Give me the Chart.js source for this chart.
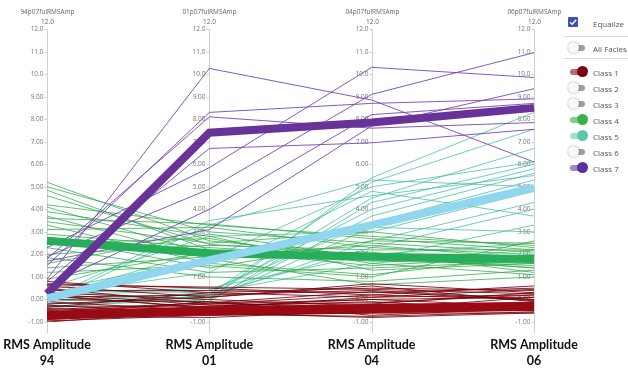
<!DOCTYPE html>
<html>
<head>
<meta charset="utf-8">
<script src="https://cdn.jsdelivr.net/npm/chart.js@4"></script>
<style>
    body { margin: 0; background: #fff; font-family: 'Open Sans', sans-serif; }
    #wrap { position: relative; width: 628px; height: 370px; }
    #chart { position: absolute; left: 0; top: 0; }
    .row { position: absolute; left: 568px; height: 12px; display: flex; align-items: center; font-size: 8px; color: #555; }
    .row span.lbl { position: absolute; left: 25px; white-space: nowrap; }
    .sep { position: absolute; left: 563px; width: 65px; height: 1px; background: #ddd; }
    .track { position: absolute; left: 2px; top: 3px; width: 15px; height: 6px; border-radius: 3px; }
    .knob { position: absolute; top: 0; width: 11px; height: 11px; border-radius: 50%; }
    .check { position: absolute; left: 0; top: 0; width: 10px; height: 10px; background: #3f51b5; border-radius: 1px; }
</style>
</head>
<body>
<div id="wrap">
    <canvas id="chart" width="628" height="370"></canvas>
    <div id="legend"></div>
</div>
<script>
// =============================================
// DATA
// =============================================
const categories = [['RMS Amplitude', '94'], ['RMS Amplitude', '01'], ['RMS Amplitude', '04'], ['RMS Amplitude', '06']];
const axisNames = ['94p07fulRMSAmp', '01p07fulRMSAmp', '04p07fulRMSAmp', '06p07fulRMSAmp'];
const tickValues = [12, 11, 10, 9, 8, 7, 6, 5, 4, 3, 2, 1, 0, -1];

// thin lines, one per sample: [axis 94, axis 01, axis 04, axis 06]
const class1Lines = [
    [0.8, 0.3, 0.5, 0.4], [0.7, 0.5, 0.2, 0.6], [0.6, 0.1, 0.7, 0.3], [0.5, -0.2, 0.0, 0.1],
    [0.4, 0.4, 0.3, 0.5], [0.3, 0.0, -0.3, -0.2], [0.2, -0.4, 0.1, 0.2], [0.1, 0.2, 0.4, 0.0],
    [0.0, -0.1, -0.5, -0.4], [-0.1, -0.5, -0.2, 0.3], [-0.2, 0.1, 0.6, -0.1], [-0.3, -0.3, -0.1, -0.5],
    [-0.4, -0.6, -0.4, -0.3], [-0.5, -0.2, 0.2, 0.0], [-0.55, -0.7, -0.6, -0.6], [-0.6, -0.4, -0.3, -0.2],
    [-0.65, -0.1, -0.7, -0.4], [-0.7, -0.55, -0.45, 0.1], [-0.75, -0.8, -0.5, -0.5], [-0.8, -0.3, 0.0, -0.3],
    [-0.85, -0.6, -0.8, -0.6], [-0.9, -0.45, -0.25, -0.15], [-0.95, -0.7, -0.6, -0.45], [-1.0, -0.5, -0.35, -0.25],
    [0.25, -0.25, -0.15, 0.2], [-0.35, 0.3, 0.1, 0.45], [0.15, -0.35, -0.55, -0.35], [-0.45, -0.15, 0.35, -0.05],
    [0.65, 0.55, 0.45, 0.25], [-0.25, -0.65, -0.75, -0.55]
];
const class4Lines = [
    [5.2, 2.6, 1.9, 1.4], [5.0, 3.0, 2.5, 2.1], [4.85, 2.2, 1.5, 1.9], [4.2, 3.3, 2.8, 2.4],
    [4.1, 2.0, 2.1, 1.2], [3.9, 2.8, 1.3, 1.6], [3.7, 1.8, 0.65, 1.0], [3.45, 2.5, 3.0, 2.3],
    [3.3, 1.6, 1.1, 1.9], [3.1, 3.2, 2.3, 2.0], [2.9, 2.3, 1.9, 1.4], [2.75, 1.4, 2.6, 2.5],
    [2.5, 2.7, 1.6, 1.1], [2.3, 1.2, 1.4, 1.7], [2.0, 2.4, 2.2, 2.2], [1.85, 1.0, 0.8, 1.3],
    [1.6, 2.9, 1.8, 1.5], [1.4, 1.9, 2.4, 1.8], [1.2, 1.5, 1.0, 2.6], [0.9, 2.1, 1.7, 1.6],
    [4.6, 2.45, 2.0, 1.75], [3.6, 3.35, 2.7, 2.2]
];
const class5Lines = [
    [0.3, 0.0, 5.4, 8.3], [0.1, 0.2, 5.2, 7.55], [-0.2, 0.1, 4.5, 6.7], [0.0, -0.1, 4.3, 6.0],
    [0.4, 0.3, 4.0, 5.8], [-0.3, 0.0, 3.7, 5.6], [0.2, 0.4, 3.4, 5.3], [-0.1, 3.3, 5.3, 5.0],
    [0.5, 2.8, 3.0, 4.8], [0.0, 0.1, 2.6, 4.3], [-0.4, 0.2, 2.3, 4.0], [0.2, 1.2, 4.8, 3.7],
    [0.1, 2.2, 1.8, 3.3], [-0.2, 0.0, 3.2, 3.0], [0.3, 0.5, 2.0, 2.5], [0.0, 3.5, 4.6, 5.5],
    [-0.1, 0.3, 1.6, 2.2], [0.4, 1.8, 5.0, 6.1]
];
const class7Lines = [
    [0.9, 10.25, 8.85, 6.1], [1.5, 8.3, 8.7, 8.9], [1.8, 8.1, 7.6, 7.85], [0.8, 6.7, 6.95, 7.55],
    [2.3, 5.85, 10.3, 9.85], [1.9, 4.9, 9.1, 10.95], [0.6, 4.0, 8.2, 8.7], [1.7, 3.1, 7.7, 9.35]
];

// class means (thick lines)
const class1Mean = [-0.7, -0.5, -0.4, -0.3];
const class4Mean = [2.6, 2.05, 1.9, 1.8];
const class5Mean = [0.05, 1.75, 3.3, 4.95];
const class7Mean = [0.25, 7.4, 7.85, 8.5];

// legend
const legendClasses = ['Class 1', 'Class 2', 'Class 3', 'Class 4', 'Class 5', 'Class 6', 'Class 7'];
const legendOn = [true, false, false, true, true, false, true];
const legendColors = ['#7a0010', '#999', '#999', '#35b34a', '#5cc8aa', '#999', '#5b2f9e'];
const legendTracks = ['#b86a6e', '#9e9e9e', '#9e9e9e', '#86d08e', '#9fdfcd', '#9e9e9e', '#9d84cc'];

// =============================================
// DATASETS
// =============================================
const datasets = [];
function addLines(lines, color, width, order) {
    lines.forEach(vals => {
        datasets.push({ data: vals, borderColor: color, borderWidth: width, order: order });
    });
}
addLines(class5Lines, 'rgba(64,190,160,0.75)', 1, 10);
addLines(class4Lines, 'rgba(45,170,70,0.75)', 1, 9);
addLines(class7Lines, 'rgba(110,60,180,0.85)', 1, 8);
addLines(class1Lines, 'rgba(120,0,12,0.85)', 1, 7);
datasets.push({ data: class4Mean, borderColor: '#27ae5a', borderWidth: 8, order: 4 });
datasets.push({ data: class7Mean, borderColor: '#673399', borderWidth: 8, order: 3 });
datasets.push({ data: class5Mean, borderColor: '#8fd6ee', borderWidth: 8, order: 2 });
datasets.push({ data: class1Mean, borderColor: '#9a0a14', borderWidth: 9, order: 1 });

// Parallel axes drawn at each category position
const parallelAxes = {
    id: 'parallelAxes',
    beforeDatasetsDraw(chart) {
        const ctx = chart.ctx;
        const xs = chart.scales.x;
        const ys = chart.scales.y;
        ctx.save();
        axisNames.forEach((name, i) => {
            const x = Math.round(xs.getPixelForValue(i)) + 0.5;
            ctx.strokeStyle = '#d0d0d0';
            ctx.lineWidth = 1;
            ctx.beginPath();
            ctx.moveTo(x, ys.getPixelForValue(12));
            ctx.lineTo(x, ys.getPixelForValue(-1) + 11);
            ctx.stroke();

            ctx.fillStyle = '#777';
            ctx.font = '6.5px "Open Sans", sans-serif';
            ctx.textAlign = 'right';
            ctx.textBaseline = 'middle';
            tickValues.forEach(v => {
                const y = Math.round(ys.getPixelForValue(v)) + 0.5;
                ctx.beginPath();
                ctx.moveTo(x - 3, y);
                ctx.lineTo(x, y);
                ctx.stroke();
                ctx.fillText(v.toPrecision(3), x - 4, y);
            });

            ctx.textAlign = 'center';
            ctx.fillStyle = '#666';
            ctx.font = '6.5px "Open Sans", sans-serif';
            ctx.fillText(name, x, 12);
            ctx.fillText(tickValues[0].toPrecision(3), x, 22);
        });
        ctx.restore();
    }
};

new Chart(document.getElementById('chart').getContext('2d'), {
    type: 'line',
    data: { labels: categories, datasets: datasets },
    options: {
        responsive: false,
        animation: false,
        layout: { padding: { left: 47, right: 94, top: 29, bottom: 0 } },
        elements: { point: { radius: 0 }, line: { tension: 0, fill: false } },
        plugins: { legend: { display: false }, tooltip: { enabled: false } },
        scales: {
            x: {
                type: 'category',
                offset: false,
                grid: { display: false, drawTicks: false },
                border: { display: false },
                afterFit(scale) {
                    scale.height = 48;
                    scale.paddingLeft = 0;
                    scale.paddingRight = 0;
                },
                ticks: {
                    padding: 15,
                    color: '#111',
                    maxRotation: 0,
                    autoSkip: false,
                    font: { family: 'Lato', size: 12.5, weight: 'bold', lineHeight: 1.3 }
                }
            },
            y: { min: -1, max: 12, display: false }
        }
    },
    plugins: [parallelAxes]
});

// =============================================
// LEGEND (toggle panel)
// =============================================
const legend = document.getElementById('legend');
let html = '<div class="row" style="top:17px"><div class="check"><svg width="10" height="10" viewBox="0 0 10 10"><path d="M2 5.2 L4.2 7.3 L8.2 2.8" stroke="#fff" stroke-width="1.3" fill="none"/></svg></div><span class="lbl">Equalize</span></div>';
html += '<div class="sep" style="top:36px"></div>';
html += toggleRow('All Facies', 42, false, '#fff', '#9e9e9e');
html += '<div class="sep" style="top:58px"></div>';
legendClasses.forEach((name, i) => {
    html += toggleRow(name, 66 + i * 16, legendOn[i], legendColors[i], legendTracks[i]);
});
legend.innerHTML = html;

function toggleRow(label, top, on, color, track) {
    const knob = on
        ? `<div class="knob" style="left:9px;background:${color}"></div>`
        : `<div class="knob" style="left:0;background:#fafafa;box-shadow:0 0 2px rgba(0,0,0,0.45)"></div>`;
    return `<div class="row" style="top:${top}px"><div class="track" style="background:${track}"></div>${knob}<span class="lbl">${label}</span></div>`;
}
</script>
</body>
</html>
